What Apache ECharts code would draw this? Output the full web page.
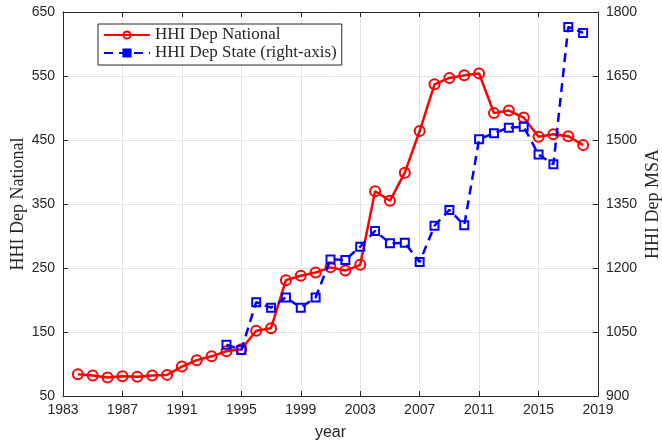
<!DOCTYPE html>
<html>
<head>
<meta charset="utf-8">
<script src="https://cdn.jsdelivr.net/npm/echarts@6/dist/echarts.min.js"></script>
<style>
  html, body { margin: 0; padding: 0; background: #fff; }
  #chart { width: 662px; height: 440px; }
</style>
</head>
<body>
<div id="chart"></div>
<script>
// Concentration of deposits (HHI), national vs. state level
const nationalYears = [1984, 1985, 1986, 1987, 1988, 1989, 1990, 1991, 1992, 1993,
  1994, 1995, 1996, 1997, 1998, 1999, 2000, 2001, 2002, 2003,
  2004, 2005, 2006, 2007, 2008, 2009, 2010, 2011, 2012, 2013,
  2014, 2015, 2016, 2017, 2018];
const nationalHHI = [84, 82, 79, 81, 80, 82, 83, 96, 106, 112,
  120, 123, 152, 156, 231, 238, 243, 251, 246, 255,
  370, 355, 399, 464, 537, 547, 551, 554, 492, 496,
  485, 455, 459, 456, 442];

const stateYears = [1994, 1995, 1996, 1997, 1998, 1999, 2000, 2001, 2002, 2003,
  2004, 2005, 2006, 2007, 2008, 2009, 2010, 2011, 2012, 2013,
  2014, 2015, 2016, 2017, 2018];
const stateHHI = [1020, 1008, 1120, 1107, 1131, 1107, 1131, 1220, 1219, 1250,
  1287, 1258, 1259, 1214, 1299, 1336, 1300, 1502, 1516, 1529,
  1531, 1466, 1443, 1765, 1751];

const yearTicks = { min: 1983, max: 2019, step: 4 };
const leftTicks = { min: 50, max: 650, step: 100 };
const rightTicks = { min: 900, max: 1800, step: 150 };

const pairs = (xs, ys) => xs.map((x, i) => [x, ys[i]]);

const RED = '#ff0000';
const BLUE = '#0000ff';
const GRID = '#e3e3e3';
const tickFont = { fontFamily: '"Liberation Sans", Arial, sans-serif', fontSize: 14, color: '#262626' };
const serif = '"Liberation Serif", "Times New Roman", serif';

const chart = echarts.init(document.getElementById('chart'), null, { renderer: 'canvas' });

chart.setOption({
  animation: false,
  backgroundColor: '#fff',
  grid: { left: 63, right: 64, top: 12, bottom: 44, containLabel: false, outerBoundsMode: 'none' },
  legend: {
    orient: 'vertical',
    left: 98,
    top: 24,
    padding: [2, 5, 3, 5],
    itemWidth: 46,
    itemHeight: 9,
    itemGap: 0,
    borderColor: '#262626',
    borderWidth: 1,
    backgroundColor: '#fff',
    textStyle: { fontFamily: serif, fontSize: 17, color: '#262626', lineHeight: 18 },
    data: [
      { name: 'HHI Dep National' },
      { name: 'HHI Dep State (right-axis)', itemStyle: { color: BLUE } }
    ]
  },
  xAxis: [{
    type: 'value',
    min: yearTicks.min, max: yearTicks.max, interval: yearTicks.step,
    name: 'year',
    nameLocation: 'middle',
    nameGap: 29,
    nameTextStyle: { fontFamily: '"Liberation Sans", Arial, sans-serif', fontSize: 16, color: '#262626' },
    axisLine: { show: true, lineStyle: { color: '#262626', width: 1 } },
    axisTick: { show: true, inside: true, length: 5, lineStyle: { color: '#262626' } },
    axisLabel: Object.assign({ margin: 7, formatter: v => String(v) }, tickFont),
    splitLine: { show: true, lineStyle: { color: GRID, width: 1 } }
  }, {
    type: 'value', position: 'top',
    min: yearTicks.min, max: yearTicks.max, interval: yearTicks.step,
    axisLine: { show: true, lineStyle: { color: '#262626', width: 1 } },
    axisTick: { show: true, inside: true, length: 5, lineStyle: { color: '#262626' } },
    axisLabel: { show: false },
    splitLine: { show: false }
  }],
  yAxis: [{
    type: 'value',
    position: 'left',
    min: leftTicks.min, max: leftTicks.max, interval: leftTicks.step,
    name: 'HHI Dep National',
    nameLocation: 'middle',
    nameRotate: 90,
    nameGap: 36,
    nameMoveOverlap: false,
    nameTextStyle: { fontFamily: serif, fontSize: 18, color: '#262626' },
    axisLine: { show: true, lineStyle: { color: '#262626', width: 1 } },
    axisTick: { show: true, inside: true, length: 5, lineStyle: { color: '#262626' } },
    axisLabel: Object.assign({ margin: 8, formatter: v => String(v) }, tickFont),
    splitLine: { show: true, lineStyle: { color: GRID, width: 1 } }
  }, {
    type: 'value',
    position: 'right',
    min: rightTicks.min, max: rightTicks.max, interval: rightTicks.step,
    name: 'HHI Dep MSA',
    nameLocation: 'middle',
    nameRotate: 90,
    nameGap: 46,
    nameMoveOverlap: false,
    nameTextStyle: { fontFamily: serif, fontSize: 18, color: '#262626' },
    axisLine: { show: true, lineStyle: { color: '#262626', width: 1 } },
    axisTick: { show: true, inside: true, length: 5, lineStyle: { color: '#262626' } },
    axisLabel: Object.assign({ margin: 8, formatter: v => String(v) }, tickFont),
    splitLine: { show: false }
  }],
  series: [{
    name: 'HHI Dep National',
    type: 'line',
    xAxisIndex: 0,
    yAxisIndex: 0,
    data: pairs(nationalYears, nationalHHI),
    symbol: 'circle',
    symbolSize: 10,
    showSymbol: true,
    showAllSymbol: true,
    color: RED,
    lineStyle: { color: RED, width: 2.5 },
    itemStyle: { color: 'rgba(255,0,0,0)', borderColor: RED, borderWidth: 2 },
    emphasis: { disabled: true },
    z: 2
  }, {
    name: 'HHI Dep State (right-axis)',
    type: 'line',
    xAxisIndex: 0,
    yAxisIndex: 1,
    data: pairs(stateYears, stateHHI),
    symbol: 'rect',
    symbolSize: 8,
    showSymbol: true,
    showAllSymbol: true,
    color: BLUE,
    lineStyle: { color: BLUE, width: 2.5, type: [9, 6] },
    itemStyle: { color: 'rgba(0,0,255,0)', borderColor: BLUE, borderWidth: 2 },
    emphasis: { disabled: true },
    z: 3
  }]
});
</script>
</body>
</html>
